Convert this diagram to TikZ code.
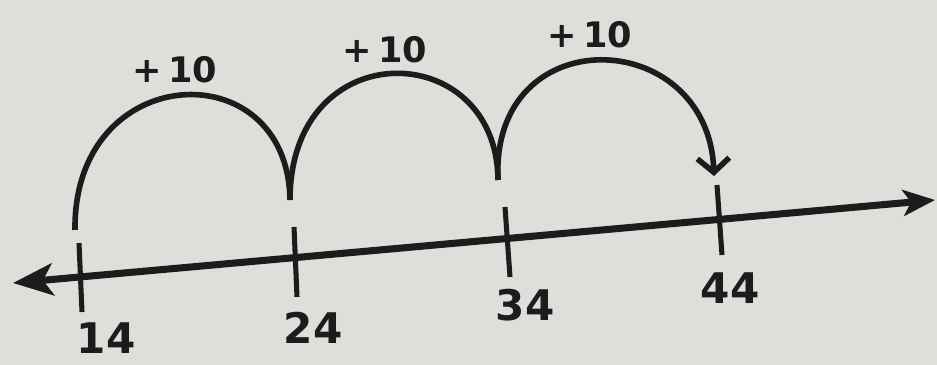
\documentclass[tikz,border=0pt]{standalone}
\usepackage{fontspec}
\newfontfamily\handfont{DejaVu Sans}
\usetikzlibrary{arrows.meta}
\definecolor{paper}{RGB}{222,222,219}
\definecolor{ink}{RGB}{28,28,28}

\begin{document}
\begin{tikzpicture}[x=0.025cm, y=-0.025cm,
  axis/.style={draw=ink, line width=5pt, {Stealth[length=10mm,width=8mm,inset=2.5mm]}-{Stealth[length=8mm,width=6.5mm,inset=2mm]}},
  tickmark/.style={draw=ink, line width=3.6pt},
  jump/.style={draw=ink, line width=4pt},
  num/.style={font=\handfont\bfseries\fontsize{30}{32}\selectfont, text=ink, inner sep=0pt},
  plus/.style={font=\handfont\bfseries\fontsize{25}{28}\selectfont, text=ink, inner sep=0pt}
]
  \path[fill=paper] (0,0) rectangle (937,365);
  \useasboundingbox (0,0) rectangle (937,365);

  % number line
  \coordinate (lend) at (13,283);
  \coordinate (rend) at (935,200);
  \draw[axis] (lend) -- (rend);

  \coordinate (t14a) at (79,243);  \coordinate (t14b) at (82,312);
  \coordinate (t24a) at (294,227); \coordinate (t24b) at (297,297);
  \coordinate (t34a) at (505,207); \coordinate (t34b) at (510,277);
  \coordinate (t44a) at (717,185); \coordinate (t44b) at (722,255);
  \draw[tickmark] (t14a) -- (t14b);
  \draw[tickmark] (t24a) -- (t24b);
  \draw[tickmark] (t34a) -- (t34b);
  \draw[tickmark] (t44a) -- (t44b);

  \node[num] (n14) at (106,338) {14};
  \node[num] (n24) at (313,328) {24};
  \node[num] (n34) at (525,305) {34};
  \node[num] (n44) at (730,288) {44};

  % jumps
  \coordinate (j14) at (75,230);
  \coordinate (j24) at (290,200);
  \coordinate (j34) at (498,180);
  \coordinate (j44) at (714,176);
  \draw[jump] (j14) .. controls (73,60) and (288,50) .. (j24);
  \draw[jump] (j24) .. controls (290,32) and (497,37) .. (j34);
  \draw[jump, -{Straight Barb[length=3.5mm,width=8mm]}] (j34) .. controls (490,18) and (708,25) .. (j44);

  \node[plus] (p1) at (175,70) {+\,10};
  \node[plus] (p2) at (385,50) {+\,10};
  \node[plus] (p3) at (590,35) {+\,10};
\end{tikzpicture}
\end{document}
